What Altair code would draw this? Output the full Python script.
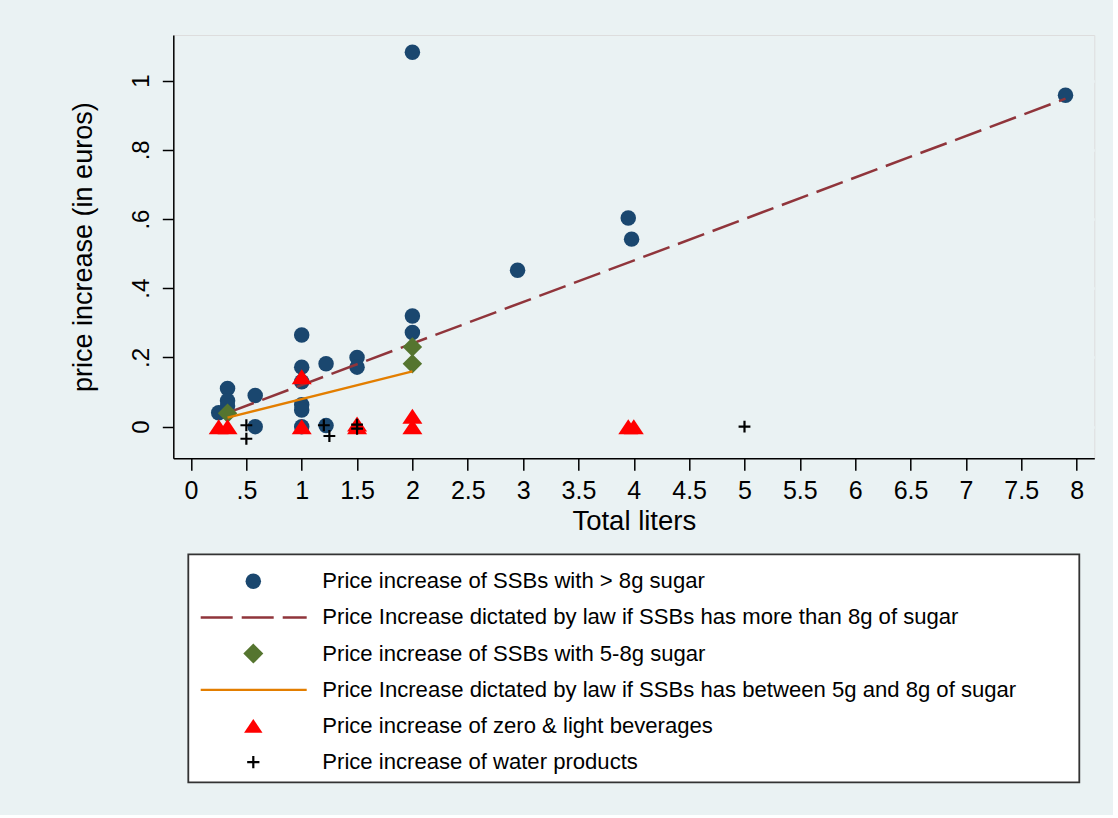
import altair as alt
import pandas as pd

# Sugar-sweetened beverages with more than 8 g of sugar
hi_liters = [0.25, 0.33, 0.33, 0.33, 0.58, 0.58, 1.0, 1.0, 1.0, 1.0, 1.0, 1.0,
             1.22, 1.22, 1.5, 1.5, 2.0, 2.0, 2.0, 2.95, 3.95, 3.98, 7.9]
hi_price = [0.04, 0.11, 0.075, 0.06, 0.09, 0.0, 0.265, 0.172, 0.13, 0.063, 0.048, 0.0,
            0.182, 0.003, 0.2, 0.172, 0.32, 0.272, 1.082, 0.452, 0.603, 0.542, 0.958]

# Sugar-sweetened beverages with 5-8 g of sugar
mid_liters = [0.33, 2.0, 2.0]
mid_price = [0.039, 0.23, 0.182]

# Zero & light beverages
light_liters = [0.25, 0.33, 1.0, 1.0, 1.5, 1.5, 2.0, 2.0, 3.95, 4.0]
light_price = [0.0, 0.0, 0.0, 0.144, 0.0, 0.008, 0.0, 0.03, 0.0, 0.0]

# Water products
water_liters = [0.5, 0.5, 1.2, 1.25, 1.5, 1.5, 5.0]
water_price = [0.004, -0.035, 0.004, -0.027, 0.006, -0.006, 0.0]

# Price increase set by law
hi_law_liters = [0.33, 7.9]
hi_law_price = [0.04, 0.948]
mid_law_liters = [0.33, 2.0]
mid_law_price = [0.026, 0.16]

x_ticks = [0, 0.5, 1, 1.5, 2, 2.5, 3, 3.5, 4, 4.5, 5, 5.5, 6, 6.5, 7, 7.5, 8]
y_ticks = [0, 0.2, 0.4, 0.6, 0.8, 1]

legend_labels = [
    "Price increase of SSBs with > 8g sugar",
    "Price Increase dictated by law if SSBs has more than 8g of sugar",
    "Price increase of SSBs with 5-8g sugar",
    "Price Increase dictated by law if SSBs has between 5g and 8g of sugar",
    "Price increase of zero & light beverages",
    "Price increase of water products",
]

NAVY = "#1a476f"
MAROON = "#90353b"
GREEN = "#55752f"
ORANGE = "#e37e00"
RED = "#ff0000"
BG = "#eaf2f3"
FONT = "Liberation Sans"

W, H = 921, 423.3


def frame(xs, ys):
    return pd.DataFrame({"liters": xs, "price": ys})


stata_label = "datum.value == 0 ? '0' : replace(toString(datum.value), '0.', '.')"

x_enc = alt.X(
    "liters:Q",
    scale=alt.Scale(domain=[-0.16, 8.16], nice=False, zero=False),
    axis=alt.Axis(
        values=x_ticks, labelExpr=stata_label, title="Total liters",
        grid=False, tickSize=12, tickWidth=1.5, tickColor="#000",
        domainColor="#000", domainWidth=1.5,
        labelFontSize=25, labelPadding=28, labelBaseline="alphabetic",
        labelColor="#000", labelFont=FONT,
        titleFontSize=27.5, titleFont=FONT, titleColor="#000", titleFontWeight="normal",
        titleX=W / 2, titleY=62.7, titleBaseline="middle", titleAlign="center",
    ),
)
y_enc = alt.Y(
    "price:Q",
    scale=alt.Scale(domain=[-0.0915, 1.132], nice=False, zero=False),
    axis=alt.Axis(
        values=y_ticks, labelExpr=stata_label, title="price increase (in euros)",
        grid=True, gridColor=BG, gridWidth=2.5,
        tickSize=11, tickWidth=1.5, tickColor="#000",
        domainColor="#000", domainWidth=1.5,
        labelFontSize=24, labelAngle=270, labelAlign="center",
        labelBaseline="alphabetic", labelPadding=14,
        labelColor="#000", labelFont=FONT,
        titleFontSize=27, titleFont=FONT, titleColor="#000", titleFontWeight="normal",
        titleAngle=270, titleX=-90.3, titleY=H / 2, titleBaseline="middle", titleAlign="center",
    ),
)

plus_path = "M-1,0L1,0M0,-1L0,1"
flat_triangle = "M0,-0.75L1,0.75L-1,0.75Z"

hi_pts = alt.Chart(frame(hi_liters, hi_price)).mark_point(
    shape="circle", filled=True, color=NAVY, size=240, opacity=1
).encode(x=x_enc, y=y_enc)

hi_law = alt.Chart(frame(hi_law_liters, hi_law_price)).mark_line(
    color=MAROON, strokeWidth=2.5, strokeDash=[28, 9]
).encode(x=x_enc, y=y_enc)

mid_pts = alt.Chart(frame(mid_liters, mid_price)).mark_point(
    shape="diamond", filled=True, color=GREEN, size=380, opacity=1
).encode(x=x_enc, y=y_enc)

mid_law = alt.Chart(frame(mid_law_liters, mid_law_price)).mark_line(
    color=ORANGE, strokeWidth=2.3
).encode(x=x_enc, y=y_enc)

light_pts = alt.Chart(frame(light_liters, light_price)).mark_point(
    shape=flat_triangle, filled=True, color=RED, size=400, opacity=1
).encode(x=x_enc, y=y_enc)

water_pts = alt.Chart(frame(water_liters, water_price)).mark_point(
    shape=plus_path, filled=False, color="#000", size=140, strokeWidth=2.2, opacity=1
).encode(x=x_enc, y=y_enc)

plot = alt.layer(hi_pts, hi_law, mid_pts, mid_law, light_pts, water_pts)

# Legend block below the plot, one row per series
legend_df = pd.DataFrame({"label": legend_labels, "row": list(range(len(legend_labels)))})
row_scale = alt.Scale(domain=[0, 5], range=[546.3, 727.1])
row_enc = alt.Y("row:Q", scale=row_scale, axis=None)

box = alt.Chart(pd.DataFrame({"k": [0]})).mark_rect(
    fill="white", stroke="#333333", strokeWidth=1.8
).encode(x=alt.value(15), x2=alt.value(906), y=alt.value(519.3), y2=alt.value(747.3))

leg_text = alt.Chart(legend_df).mark_text(
    align="left", baseline="middle", fontSize=22.1, font=FONT, color="#000"
).encode(x=alt.value(149), y=row_enc, text="label:N")

leg_base = alt.Chart(legend_df)
leg_circle = leg_base.mark_point(shape="circle", filled=True, color=NAVY, size=240, opacity=1).encode(
    x=alt.value(80), y=row_enc).transform_filter("datum.row == 0")
leg_dash = leg_base.mark_rule(color=MAROON, strokeWidth=2.5, strokeDash=[32, 9]).encode(
    x=alt.value(27.4), x2=alt.value(133.4), y=row_enc).transform_filter("datum.row == 1")
leg_diamond = leg_base.mark_point(shape="diamond", filled=True, color=GREEN, size=400, opacity=1).encode(
    x=alt.value(80), y=row_enc).transform_filter("datum.row == 2")
leg_line = leg_base.mark_rule(color=ORANGE, strokeWidth=2.3).encode(
    x=alt.value(27.4), x2=alt.value(133.4), y=row_enc).transform_filter("datum.row == 3")
leg_tri = leg_base.mark_point(shape=flat_triangle, filled=True, color=RED, size=340, opacity=1).encode(
    x=alt.value(80), y=row_enc).transform_filter("datum.row == 4")
leg_plus = leg_base.mark_point(shape=plus_path, filled=False, color="#000", size=150, strokeWidth=2.2, opacity=1).encode(
    x=alt.value(80), y=row_enc).transform_filter("datum.row == 5")

legend = alt.layer(box, leg_text, leg_circle, leg_dash, leg_diamond, leg_line, leg_tri, leg_plus)

chart = alt.layer(plot, legend).resolve_scale(y="independent").properties(
    width=W, height=H,
    autosize=alt.AutoSizeParams(type="none"),
    padding={"left": 173.3, "top": 35, "right": 18.7, "bottom": 356.7},
    background=BG,
).configure_view(fill="white", stroke="transparent").configure(font=FONT)

chart.save("out.html", embed_options={"renderer": "svg", "actions": False})
